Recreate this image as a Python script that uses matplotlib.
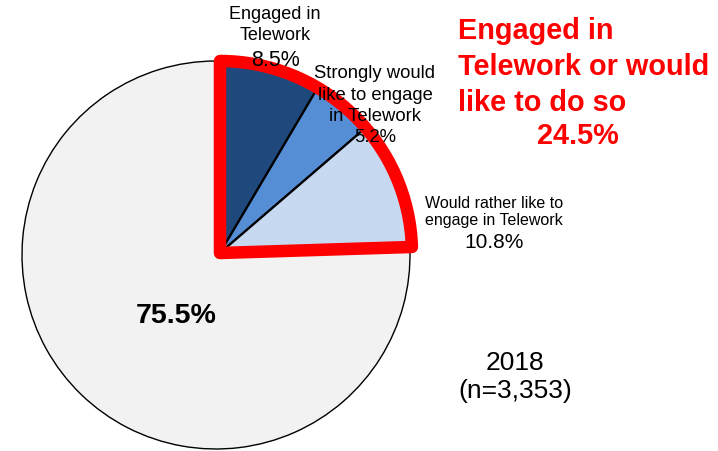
import matplotlib.pyplot as plt
from matplotlib.patches import Wedge

plt.rcParams['font.family'] = ['Liberation Sans', 'DejaVu Sans']

# survey shares (%), 2018
labels = ["Engaged in Telework", "Strongly would like to engage in Telework",
          "Would rather like to engage in Telework", "Other"]
shares = [8.5, 5.2, 10.8, 75.5]
colors = ["#1F497D", "#558ED5", "#C6D9F1", "#F2F2F2"]
n_respondents = "3,353"
year = "2018"

W, H = 718, 451
fig = plt.figure(figsize=(W / 100, H / 100), dpi=100)
ax = fig.add_axes([0, 0, 1, 1])

# pie in units of its radius; radius = 194 px, centre at (216, 255) px
R_PX = 194.0
CX, CY = 216.0, 255.0

wedges, _ = ax.pie(shares, colors=colors, startangle=90, counterclock=False,
                   wedgeprops=dict(edgecolor="black", linewidth=1.0))

# highlighted group (the first three slices) pulled out a little
shift = (4 / R_PX, 2 / R_PX)
for w in wedges[:3]:
    w.set_center(shift)
    w.set_radius(192 / R_PX)
    w.set_linewidth(1.6)
    w.set_zorder(3)

group_share = sum(shares[:3])
group_angle = group_share / sum(shares) * 360
outline = Wedge(shift, 192 / R_PX, 90 - group_angle, 90, fill=False,
                edgecolor="#FF0000", linewidth=9, joinstyle="round", zorder=4)
ax.add_patch(outline)

ax.set_xlim(-CX / R_PX, (W - CX) / R_PX)
ax.set_ylim(-(H - CY) / R_PX, CY / R_PX)
ax.set_aspect("equal")
ax.axis("off")


def px(x, y):
    return x / W, 1 - y / H


def put(x, y, s, size, **kw):
    fig.text(*px(x, y), s, fontsize=size, ha="center", va="center", **kw)


put(275, 25, "Engaged in\nTelework", 13, linespacing=1.3)
put(275, 61, f"{shares[0]}%", 15.5)
put(375, 95, "Strongly would\nlike to engage\nin Telework", 13.3,
    linespacing=1.32, zorder=5)
put(375, 137, f"{shares[1]}%", 13.3, zorder=5)
put(494, 212, "Would rather like to\nengage in Telework", 11.5, linespacing=1.25)
put(494, 243, f"{shares[2]}%", 15)
put(176, 316, f"{shares[3]}%", 20.5, fontweight="bold")

fig.text(*px(458, 67), "Engaged in\nTelework or would\nlike to do so",
         fontsize=20.8, fontweight="bold", color="#FF0000",
         ha="left", va="center", linespacing=1.36)
put(578, 136, f"{group_share:.1f}%", 20.8, fontweight="bold", color="#FF0000")

put(515, 377, f"{year}\n(n={n_respondents})", 19, linespacing=1.2)

fig.savefig("out.png", dpi=100, facecolor="white")
